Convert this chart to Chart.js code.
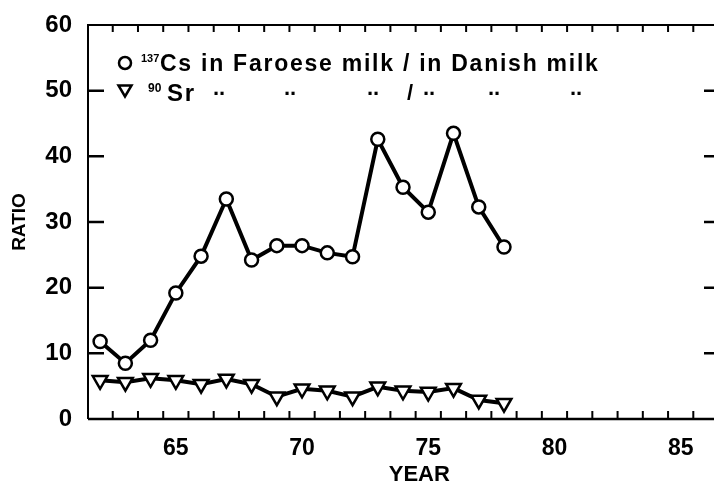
<!DOCTYPE html>
<html>
<head>
<meta charset="utf-8">
<script src="https://cdn.jsdelivr.net/npm/chart.js@4/dist/chart.umd.min.js"></script>
<style>
  html, body { margin: 0; padding: 0; background: #fff; }
  #wrap { width: 714px; height: 488px; }
</style>
</head>
<body>
<div id="wrap"><canvas id="c" width="714" height="488"></canvas></div>
<script>
// ---- data ----
const years = [62, 63, 64, 65, 66, 67, 68, 69, 70, 71, 72, 73, 74, 75, 76, 77, 78];
const csRatio = [11.8, 8.5, 12.0, 19.2, 24.8, 33.5, 24.2, 26.4, 26.4, 25.3, 24.7, 42.6, 35.3, 31.5, 43.5, 32.3, 26.2];
const srRatio = [5.9, 5.6, 6.2, 5.9, 5.3, 6.1, 5.3, 3.4, 4.6, 4.3, 3.4, 4.9, 4.3, 4.1, 4.7, 2.9, 2.4];
const xTickLabels = [65, 70, 75, 80, 85];
const xMinorTicks = [62.5, 63.5, 64.5, 65.5, 66.5, 67.5, 68.5, 69.5, 70.5, 71.5, 72.5, 73.5, 74.5, 75.5, 76.5, 77.5, 78.5, 79.5, 80.5, 81.5, 82.5, 83.5, 84.5, 85.5];
const yTickLabels = [0, 10, 20, 30, 40, 50, 60];
const yInnerTicks = [10, 20, 30, 40, 50];
const legendLine1 = { sup: "137", text: "Cs in Faroese milk / in Danish milk" };
const legendLine2 = { sup: "90", text: "Sr" };
const dittoMarks = ["..", "..", "..", "/", "..", "..", ".."];

const FONT = "'Liberation Sans', Arial, sans-serif";

function spacedText(ctx, text, x, y, targetWidth) {
  const w0 = ctx.measureText(text).width;
  const extra = targetWidth ? (targetWidth - w0) / Math.max(1, text.length - 1) : 0;
  if ('letterSpacing' in ctx) {
    ctx.letterSpacing = extra.toFixed(2) + 'px';
    ctx.fillText(text, x, y);
    ctx.letterSpacing = '0px';
  } else {
    let cx = x;
    for (const ch of text) {
      ctx.fillText(ch, cx, y);
      cx += ctx.measureText(ch).width + extra;
    }
  }
}

const framePlugin = {
  id: 'frame',
  beforeDatasetsDraw(chart) {
    const ctx = chart.ctx;
    const xs = chart.scales.x, ys = chart.scales.y;
    const L = xs.left, R = xs.right, T = ys.top, B = ys.bottom;
    ctx.save();
    ctx.strokeStyle = '#000';
    ctx.lineCap = 'butt';
    ctx.lineWidth = 2;
    ctx.beginPath();
    ctx.moveTo(L, B); ctx.lineTo(L, T); ctx.lineTo(R, T);
    ctx.stroke();
    ctx.lineWidth = 2.5;
    ctx.beginPath();
    ctx.moveTo(L, B); ctx.lineTo(R, B);
    ctx.stroke();
    ctx.lineWidth = 2;
    xMinorTicks.forEach(v => {
      const px = xs.getPixelForValue(v);
      ctx.beginPath();
      ctx.moveTo(px, B); ctx.lineTo(px, B - 8);
      ctx.moveTo(px, T); ctx.lineTo(px, T + 7);
      ctx.stroke();
    });
    ctx.lineWidth = 2.5;
    yInnerTicks.forEach(v => {
      const py = ys.getPixelForValue(v);
      ctx.beginPath();
      ctx.moveTo(L, py); ctx.lineTo(L + 16, py);
      ctx.moveTo(R, py); ctx.lineTo(R - 10, py);
      ctx.stroke();
    });
    ctx.restore();
  },
  afterDatasetsDraw(chart) {
    const ctx = chart.ctx;
    const a = chart.chartArea;
    const ox = a.left, oy = a.top;
    ctx.save();
    ctx.fillStyle = '#000';
    ctx.strokeStyle = '#000';
    ctx.textBaseline = 'alphabetic';
    ctx.textAlign = 'left';
    ctx.lineWidth = 2.5;
    ctx.beginPath();
    ctx.arc(ox + 37, oy + 38, 6, 0, Math.PI * 2);
    ctx.stroke();
    ctx.font = "bold 11px " + FONT;
    ctx.fillText(legendLine1.sup, ox + 53, oy + 37);
    ctx.font = "bold 23px " + FONT;
    spacedText(ctx, legendLine1.text, ox + 72, oy + 46, 438);
    const tx = ox + 37, ty = oy + 65;
    ctx.lineWidth = 2.5;
    ctx.beginPath();
    ctx.moveTo(tx - 6.5, ty - 4.5); ctx.lineTo(tx + 6.5, ty - 4.5); ctx.lineTo(tx, ty + 6.5); ctx.closePath();
    ctx.stroke();
    ctx.font = "bold 12px " + FONT;
    ctx.fillText(legendLine2.sup, ox + 60, oy + 67);
    ctx.font = "bold 24px " + FONT;
    spacedText(ctx, legendLine2.text, ox + 79, oy + 76, 27);
    const dittoX = [131, 202, 285, 322, 341, 406, 488];
    ctx.textAlign = 'center';
    dittoMarks.forEach((m, i) => {
      ctx.font = "bold 22px " + FONT;
      ctx.fillText(m, ox + dittoX[i], oy + (m === '/' ? 75 : 70));
    });
    ctx.restore();
  }
};

new Chart(document.getElementById('c'), {
  type: 'line',
  data: {
    datasets: [
      {
        label: '137Cs',
        data: years.map((y, i) => ({ x: y, y: csRatio[i] })),
        borderColor: '#000',
        borderWidth: 4,
        pointStyle: 'circle',
        pointRadius: 6.5,
        pointBorderWidth: 2.5,
        pointBackgroundColor: '#fff',
        pointBorderColor: '#000',
        tension: 0,
        clip: false
      },
      {
        label: '90Sr',
        data: years.map((y, i) => ({ x: y, y: srRatio[i] })),
        borderColor: '#000',
        borderWidth: 4,
        pointStyle: 'triangle',
        pointRotation: 180,
        pointRadius: 8.5,
        pointBorderWidth: 2.5,
        pointBackgroundColor: '#fff',
        pointBorderColor: '#000',
        tension: 0,
        clip: false
      }
    ]
  },
  options: {
    responsive: false,
    animation: false,
    events: [],
    layout: { autoPadding: false, padding: { top: 25, right: 0, left: 0, bottom: 0 } },
    plugins: { legend: { display: false }, tooltip: { enabled: false } },
    scales: {
      x: {
        type: 'linear',
        min: 61.52,
        max: 86.32,
        afterBuildTicks: s => { s.ticks = xTickLabels.map(v => ({ value: v })); },
        afterFit: s => { s.height = 69; s.paddingLeft = 0; s.paddingRight = 0; },
        grid: { display: false, drawTicks: false },
        border: { display: false },
        ticks: {
          color: '#000',
          padding: 16,
          maxRotation: 0,
          font: { family: FONT, size: 23, weight: 'bold' },
          callback: v => String(v)
        },
        title: {
          display: true,
          text: '      YEAR',
          color: '#000',
          padding: { top: 0, bottom: 0 },
          font: { family: FONT, size: 22, weight: 'bold' }
        }
      },
      y: {
        min: 0,
        max: 60,
        afterBuildTicks: s => { s.ticks = yTickLabels.map(v => ({ value: v })); },
        afterFit: s => { s.width = 88; s.paddingTop = 0; s.paddingBottom = 0; },
        grid: { display: false, drawTicks: false },
        border: { display: false },
        ticks: {
          color: '#000',
          padding: 16,
          font: { family: FONT, size: 24, weight: 'bold' },
          callback: v => String(v)
        },
        title: {
          display: true,
          text: 'RATIO',
          color: '#000',
          padding: { top: 8, bottom: 0 },
          font: { family: FONT, size: 19, weight: 'bold' }
        }
      }
    }
  },
  plugins: [framePlugin]
});
</script>
</body>
</html>
